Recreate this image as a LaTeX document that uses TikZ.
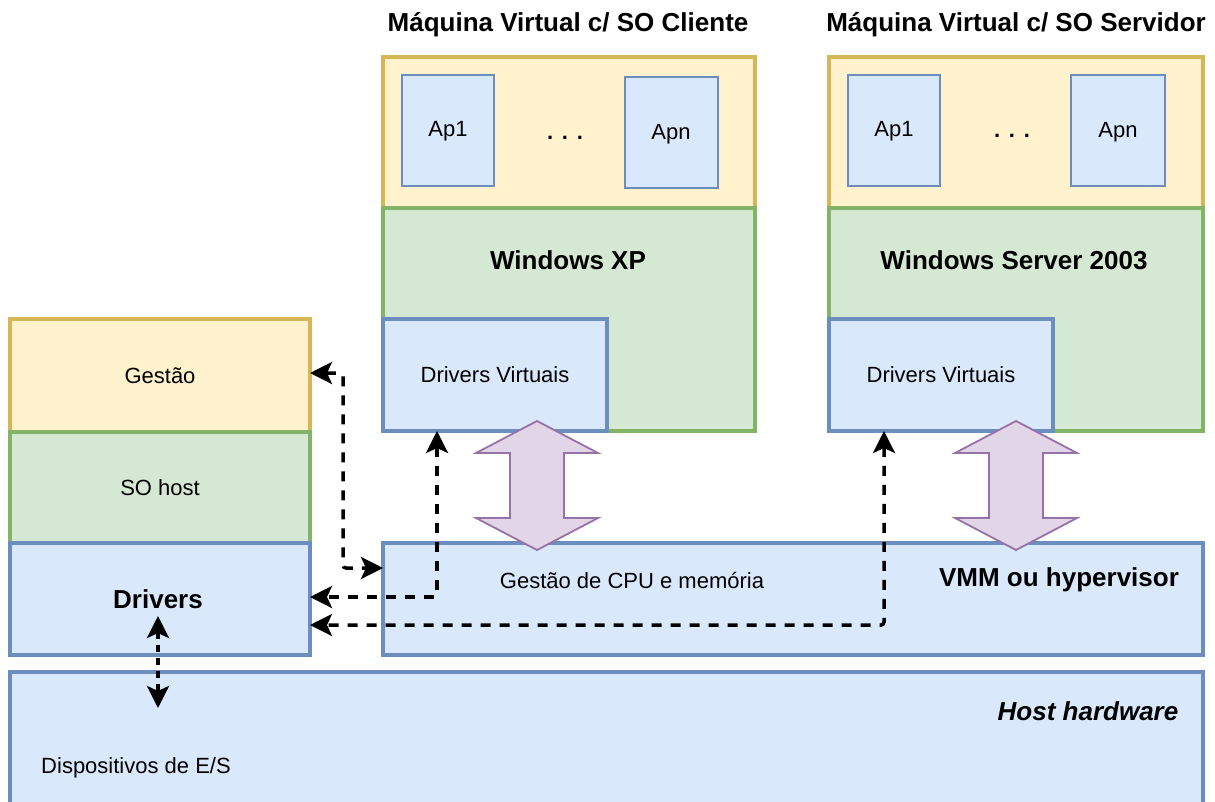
\documentclass[tikz,border=0pt]{standalone}
\usepackage{fontspec}
\setmainfont{Liberation Sans}
\usetikzlibrary{arrows.meta,calc}
\definecolor{yfill}{HTML}{FFF2CC}
\definecolor{ystroke}{HTML}{D6B656}
\definecolor{gfill}{HTML}{D5E8D4}
\definecolor{gstroke}{HTML}{82B366}
\definecolor{bfill}{HTML}{DAE8FC}
\definecolor{bstroke}{HTML}{6C8EBF}
\definecolor{pfill}{HTML}{E1D5E7}
\definecolor{pstroke}{HTML}{9673A6}
\begin{document}
\begin{tikzpicture}[x=1pt,y=-1pt,
  box/.style={draw, line width=4.5pt, inner sep=0pt, outer sep=0pt, font=\fontsize{22}{26}\selectfont},
  ybox/.style={box, fill=yfill, draw=ystroke},
  gbox/.style={box, fill=gfill, draw=gstroke},
  bbox/.style={box, fill=bfill, draw=bstroke},
  apbox/.style={bbox, line width=2pt},
  txt/.style={inner sep=0pt, font=\fontsize{22}{26}\selectfont},
  btxt/.style={inner sep=0pt, font=\fontsize{26}{30}\selectfont\bfseries},
  dbl/.style={fill=pfill, draw=pstroke, line width=1.8pt, line join=miter},
  tip/.style={},
  dda/.style={line width=3.5pt, dash pattern=on 10pt off 9pt, rounded corners=3pt,
    {Stealth[length=22pt,width=22pt,inset=5pt]}-{Stealth[length=22pt,width=22pt,inset=5pt]}}
]
\useasboundingbox (0,0) rectangle (1215,801);

% left column
\node[ybox, minimum width=300pt, minimum height=113pt] (gestao) at (160,375.5) {Gestão};
\node[gbox, minimum width=300pt, minimum height=111pt] (sohost) at (160,487.5) {SO host};
\node[bbox, minimum width=300pt, minimum height=112pt] (drivers) at (160,599) {};
\node[btxt] (driverslbl) at (158,599) {Drivers};

% host hardware
\node[bbox, minimum width=1193pt, minimum height=134pt] (hw) at (606.5,739) {};
\node[btxt, font=\fontsize{26}{30}\selectfont\bfseries\itshape] (hwlbl) at (1088,711) {Host hardware};
\node[txt] (es) at (136,768) {Dispositivos de E/S};

% VMM
\node[bbox, minimum width=820pt, minimum height=112pt] (vmm) at (793,599) {};
\node[btxt] (vmmlbl) at (1059,580) {VMM ou hypervisor};
\node[txt] (cpu) at (632,580) {Gestão de CPU e memória};

% VM 1
\node[btxt] (t1) at (568,25) {Máquina Virtual c/ SO Cliente};
\node[ybox, minimum width=372pt, minimum height=151pt] (vm1app) at (569,132.5) {};
\node[gbox, minimum width=372pt, minimum height=223pt] (vm1os) at (569,319.5) {};
\node[btxt] (xp) at (568,260) {Windows XP};
\node[bbox, minimum width=224pt, minimum height=112pt] (dv1) at (495,375) {Drivers Virtuais};
\node[apbox, minimum width=92pt, minimum height=111pt] (ap11) at (448,130.5) {};
\node[txt] (ap11lbl) at (448,131) {Ap1};
\node[apbox, minimum width=93pt, minimum height=111pt] (ap1n) at (671.5,132.5) {};
\node[txt] (ap1nlbl) at (671,134) {Apn};
\node[txt, font=\fontsize{22}{26}\selectfont\bfseries] (dots1) at (565,138) {.\hspace{0.4em}.\hspace{0.4em}.};

% VM 2
\node[btxt] (t2) at (1016,25) {Máquina Virtual c/ SO Servidor};
\node[ybox, minimum width=374pt, minimum height=151pt] (vm2app) at (1016,132.5) {};
\node[gbox, minimum width=374pt, minimum height=223pt] (vm2os) at (1016,319.5) {};
\node[btxt] (ws) at (1014,260) {Windows Server 2003};
\node[bbox, minimum width=224pt, minimum height=112pt] (dv2) at (941,375) {Drivers Virtuais};
\node[apbox, minimum width=92pt, minimum height=111pt] (ap21) at (894,130.5) {};
\node[txt] (ap21lbl) at (894,131) {Ap1};
\node[apbox, minimum width=94pt, minimum height=111pt] (ap2n) at (1118,130.5) {};
\node[txt] (ap2nlbl) at (1118,132) {Apn};
\node[txt, font=\fontsize{22}{26}\selectfont\bfseries] (dots2) at (1012,136) {.\hspace{0.4em}.\hspace{0.4em}.};

% double arrows
\foreach \cx in {537,1016}{
  \draw[dbl] (\cx,421) -- (\cx+61,453) -- (\cx+27,453) -- (\cx+27,518) -- (\cx+61,518)
    -- (\cx,550) -- (\cx-61,518) -- (\cx-27,518) -- (\cx-27,453) -- (\cx-61,453) -- cycle;
}

% dashed connectors
\draw[dda] ([yshift=2.5pt]gestao.east) -- ++(33,0) |- ([yshift=-25pt]vmm.north west);
\draw[dda] ([xshift=-58pt]dv1.south) |- ([yshift=2pt]drivers.east);
\draw[dda] ([xshift=-57pt]dv2.south) |- ([yshift=-26pt]drivers.east);
\coordinate (drvpt) at (158,616);
\coordinate (iopt) at (158,708);
\draw[dda, dash pattern=on 7pt off 6pt] (drvpt) -- (iopt);
\end{tikzpicture}
\end{document}
